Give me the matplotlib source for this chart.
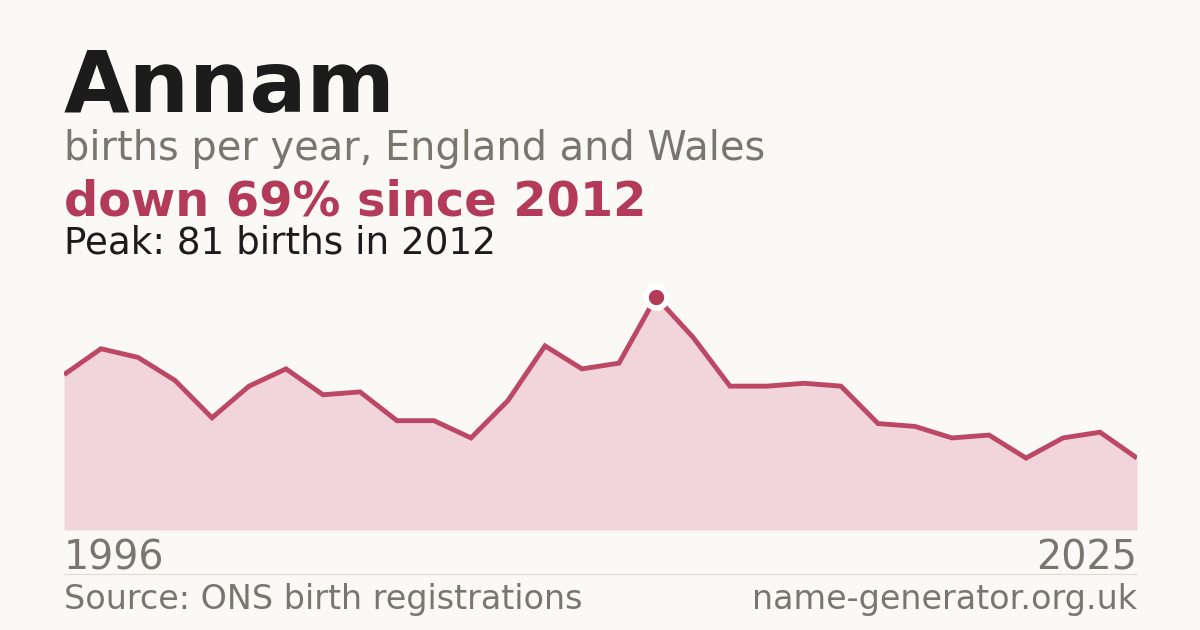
import os
import matplotlib
import matplotlib.pyplot as plt
from matplotlib.font_manager import FontProperties
from matplotlib.lines import Line2D

# use the DejaVu files shipped with matplotlib directly
ttf_dir = os.path.join(matplotlib.get_data_path(), "fonts", "ttf")
reg_file = os.path.join(ttf_dir, "DejaVuSans.ttf")
bold_file = os.path.join(ttf_dir, "DejaVuSans-Bold.ttf")


def fp(size, bold=False):
    return FontProperties(fname=bold_file if bold else reg_file, size=size)


# data
years = list(range(1996, 2026))
births = [54, 63, 60, 52, 39, 50, 56, 47, 48, 38,
          38, 32, 45, 64, 56, 58, 81, 67, 50, 50,
          51, 50, 37, 36, 32, 33, 25, 32, 34, 25]
peak_year = 2012
peak_value = 81

name = "Annam"
subtitle = "births per year, England and Wales"
headline = "down 69% since 2012"
peak_note = "Peak: 81 births in 2012"
source = "Source: ONS birth registrations"
site = "name-generator.org.uk"

bg = "#faf9f5"
accent = "#b33a58"
line_col = "#bc4866"
fill_col = "#f2d5da"
grey = "#7a766f"
dark = "#1c1c1c"

fig = plt.figure(figsize=(12, 6.3), dpi=100, facecolor=bg)

L, R = 64 / 1200, 1137 / 1200
ax = fig.add_axes([L, 100 / 630, R - L, 250 / 630])
ax.set_facecolor(bg)
ax.fill_between(years, births, 0, color=fill_col, lw=0, zorder=1)
ax.plot(years, births, color=line_col, lw=3.5, solid_joinstyle="miter",
        solid_capstyle="butt", zorder=2)
ax.plot([peak_year], [peak_value], "o", ms=15, color=accent,
        mec="white", mew=4, zorder=3)
ax.set_xlim(years[0], years[-1])
ax.set_ylim(0, 250 / 2.877)
ax.axis("off")

# header texts
fig.text(L, (630 - 112) / 630, name, fontproperties=fp(61, True),
         color=dark, va="baseline")
fig.text(L, (630 - 160) / 630, subtitle, fontproperties=fp(28.7),
         color=grey, va="baseline")
fig.text(L, (630 - 215) / 630, headline, fontproperties=fp(34.5, True),
         color=accent, va="baseline")
fig.text(L, (630 - 253) / 630, peak_note, fontproperties=fp(26.8),
         color=dark, va="baseline")

# year labels
fig.text(L, (630 - 569) / 630, str(years[0]), fontproperties=fp(28.5),
         color=grey, va="baseline")
fig.text(R, (630 - 569) / 630, str(years[-1]), fontproperties=fp(28.5),
         color=grey, va="baseline", ha="right")

# separator + footer
fig.add_artist(Line2D([L, R], [(630 - 574) / 630] * 2, color="#dedbd4", lw=0.8))
fig.text(L, (630 - 609) / 630, source, fontproperties=fp(24),
         color=grey, va="baseline")
fig.text(R, (630 - 609) / 630, site, fontproperties=fp(24),
         color=grey, va="baseline", ha="right")

fig.savefig("out.png", dpi=100, facecolor=bg)
